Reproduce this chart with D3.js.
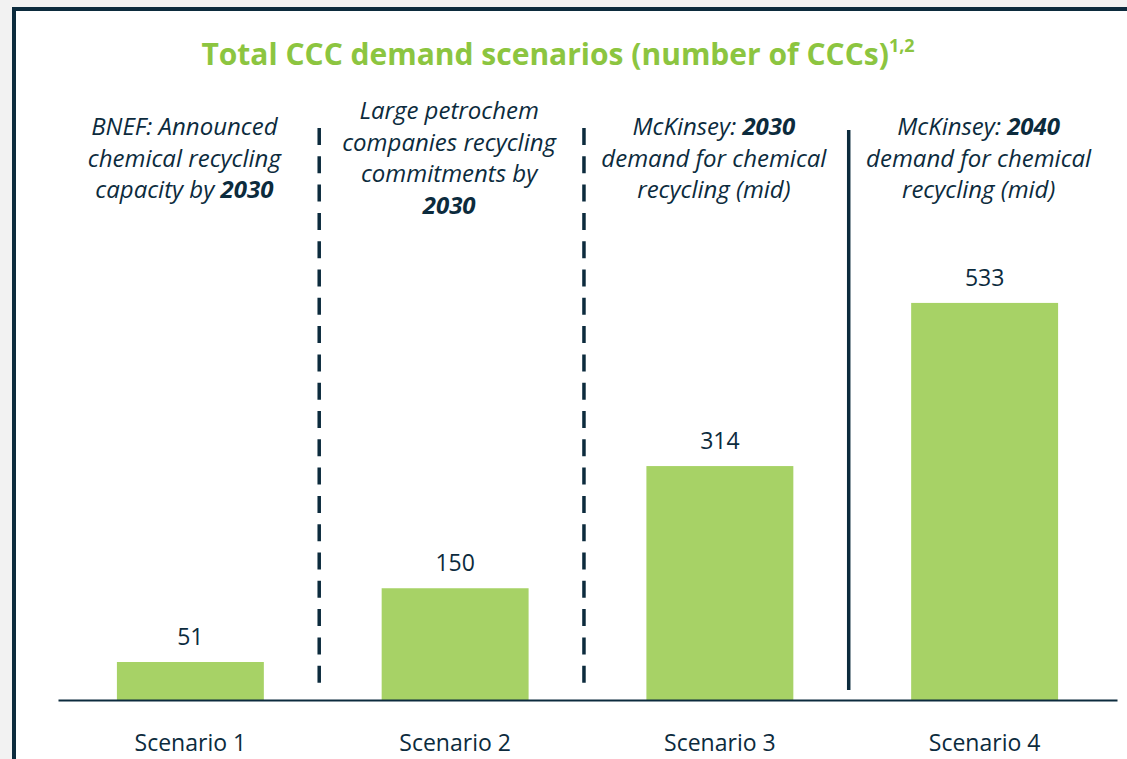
<!DOCTYPE html>
<html>
<head>
<meta charset="utf-8">
<script src="https://cdn.jsdelivr.net/npm/d3@7"></script>
<style>
  body { margin: 0; background: #f2f2f2; }
  svg { display: block; }
</style>
</head>
<body>
<div id="chart"></div>
<script>
let scenarios = ['Scenario 1', 'Scenario 2', 'Scenario 3', 'Scenario 4']
let demand = [51, 150, 314, 533]
// each line is a list of [text, bold]
let sourceNotes = [
  [[['BNEF: Announced', false]], [['chemical recycling', false]], [['capacity by ', false], ['2030', true]]],
  [[['Large petrochem', false]], [['companies recycling', false]], [['commitments by', false]], [['2030', true]]],
  [[['McKinsey: ', false], ['2030', true]], [['demand for chemical', false]], [['recycling (mid)', false]]],
  [[['McKinsey: ', false], ['2040', true]], [['demand for chemical', false]], [['recycling (mid)', false]]]
]
let noteTop = [135, 119, 135, 135]

let width = 1127
let height = 759
let navy = '#0c2b3d'
let font = '"Open Sans", "Noto Sans", sans-serif'

let svg = d3
  .select('#chart')
  .append('svg')
  .attr('width', width)
  .attr('height', height)

// panel frame
svg
  .append('rect')
  .attr('x', 14)
  .attr('y', 9)
  .attr('width', width + 20)
  .attr('height', height + 20)
  .attr('fill', '#ffffff')
  .attr('stroke', navy)
  .attr('stroke-width', 4)

let title = svg
  .append('text')
  .attr('x', 558)
  .attr('y', 65)
  .attr('text-anchor', 'middle')
  .attr('fill', '#8cc540')
  .attr('font-family', font)
  .attr('font-weight', 'bold')
  .attr('font-size', 30)
title.append('tspan').text('Total CCC demand scenarios (number of CCCs)')
title
  .append('tspan')
  .attr('font-size', 18)
  .attr('dy', -13)
  .text('1,2')

let xPositionScale = d3
  .scaleBand()
  .domain(scenarios)
  .range([58, 1117])
  .paddingInner(0.445)
  .paddingOuter(0.2225)

let yPositionScale = d3.scaleLinear().domain([0, 600]).range([700, 253])

// dividers between scenarios
scenarios.slice(1).forEach((s, i) => {
  let gap = xPositionScale.step() - xPositionScale.bandwidth()
  let lx = xPositionScale(s) - gap * 0.53
  svg
    .append('line')
    .attr('x1', lx)
    .attr('x2', lx)
    .attr('y1', i < 2 ? 128 : 130)
    .attr('y2', i < 2 ? 692 : 690)
    .attr('stroke', navy)
    .attr('stroke-width', 3.5)
    .attr('stroke-dasharray', i < 2 ? '17,11.3' : null)
})

svg
  .selectAll('.bar')
  .data(demand)
  .enter()
  .append('rect')
  .attr('class', 'bar')
  .attr('x', (d, i) => xPositionScale(scenarios[i]))
  .attr('width', xPositionScale.bandwidth())
  .attr('y', d => yPositionScale(d))
  .attr('height', d => yPositionScale(0) - yPositionScale(d))
  .attr('fill', '#a7d266')

svg
  .selectAll('.value-label')
  .data(demand)
  .enter()
  .append('text')
  .attr('class', 'value-label')
  .attr('x', (d, i) => xPositionScale(scenarios[i]) + xPositionScale.bandwidth() / 2)
  .attr('y', d => yPositionScale(d) - 17)
  .attr('text-anchor', 'middle')
  .attr('fill', navy)
  .attr('font-family', font)
  .attr('font-size', 23)
  .text(d => d)

let xAxis = d3.axisBottom(xPositionScale).tickSize(0).tickPadding(35)
let axisG = svg
  .append('g')
  .attr('class', 'axis x-axis')
  .attr('transform', 'translate(0,' + yPositionScale(0) + ')')
  .call(xAxis)
axisG.select('.domain').attr('stroke', navy).attr('stroke-width', 2)
axisG
  .selectAll('text')
  .attr('fill', navy)
  .attr('font-family', font)
  .attr('font-size', 23)

// source notes above each bar
sourceNotes.forEach((lines, i) => {
  let cx = xPositionScale(scenarios[i]) + xPositionScale.bandwidth() / 2 - 6
  lines.forEach((parts, j) => {
    let t = svg
      .append('text')
      .attr('x', cx)
      .attr('y', noteTop[i] + j * 31.5)
      .attr('text-anchor', 'middle')
      .attr('fill', navy)
      .attr('font-family', font)
      .attr('font-style', 'italic')
      .attr('font-size', 24)
    parts.forEach(p => {
      t.append('tspan')
        .attr('font-weight', p[1] ? 'bold' : 'normal')
        .text(p[0])
    })
  })
})
</script>
</body>
</html>
